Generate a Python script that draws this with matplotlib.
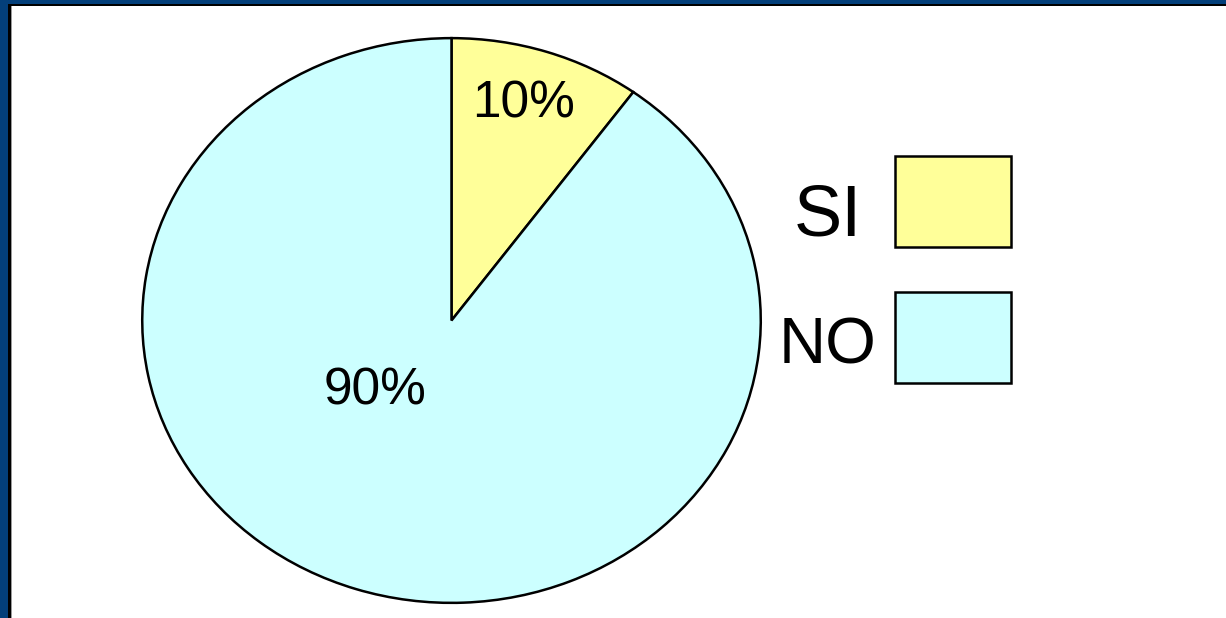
import matplotlib
matplotlib.use('Agg')
import matplotlib.pyplot as plt
from matplotlib.patches import Rectangle

# data
categories = ['SI', 'NO']
values = [10, 90]
colors = ['#FFFF99', '#CCFFFF']

W, H = 1226, 618
plt.rcParams['font.family'] = ['Liberation Sans', 'DejaVu Sans']

fig = plt.figure(figsize=(W / 100, H / 100), dpi=100)

# slide frame: blue border top/left with a thin dark line inside
fig.patches.append(Rectangle((0, 0), 1, 1, transform=fig.transFigure,
                             facecolor='#033F7A', edgecolor='none', zorder=-3))
fig.patches.append(Rectangle((8 / W, 0), 1, (H - 4) / H, transform=fig.transFigure,
                             facecolor='black', edgecolor='none', zorder=-2))
fig.patches.append(Rectangle((10.5 / W, 0), 1, (H - 6) / H, transform=fig.transFigure,
                             facecolor='#9a9a9a', edgecolor='none', zorder=-1.5))
fig.patches.append(Rectangle((11.5 / W, 0), 1, (H - 6) / H, transform=fig.transFigure,
                             facecolor='white', edgecolor='none', zorder=-1))

# pie drawn in a non-square axes so it comes out as an ellipse
left, right, top, bottom = 141, 762, 37, 604
ax = fig.add_axes([left / W, (H - bottom) / H, (right - left) / W, (bottom - top) / H])
ax.set_zorder(2)
ax.patch.set_visible(False)
wedges, texts, autotexts = ax.pie(values, colors=colors, startangle=90, counterclock=False,
                                  autopct='%1.0f%%',
                                  wedgeprops=dict(edgecolor='black', linewidth=1.8),
                                  textprops=dict(fontsize=37, color='black'))
ax.set_aspect('auto')
ax.set_xlim(-1.004, 1.004)
ax.set_ylim(-1.004, 1.004)

# label positions as in the original slide
autotexts[0].set_position((0.232, 0.718))
autotexts[1].set_position((-0.246, -0.298))
for t in autotexts:
    t.set_ha('center')
    t.set_va('baseline')

# legend: label to the left of a big colour box
box_x0, box_x1 = 895, 1011
box_tops = [156, 292]
box_h = 91
label_base = [235, 364]
label_size = [52, 47]
for cat, col, bt, lb, fs in zip(categories, colors, box_tops, label_base, label_size):
    fig.patches.append(Rectangle((box_x0 / W, (H - bt - box_h) / H),
                                 (box_x1 - box_x0) / W, box_h / H,
                                 transform=fig.transFigure, facecolor=col,
                                 edgecolor='black', linewidth=1.8, zorder=3))
    fig.text(828 / W, (H - lb) / H, cat, fontsize=fs,
             ha='center', va='baseline', color='black')

fig.savefig('out.png', dpi=100)
